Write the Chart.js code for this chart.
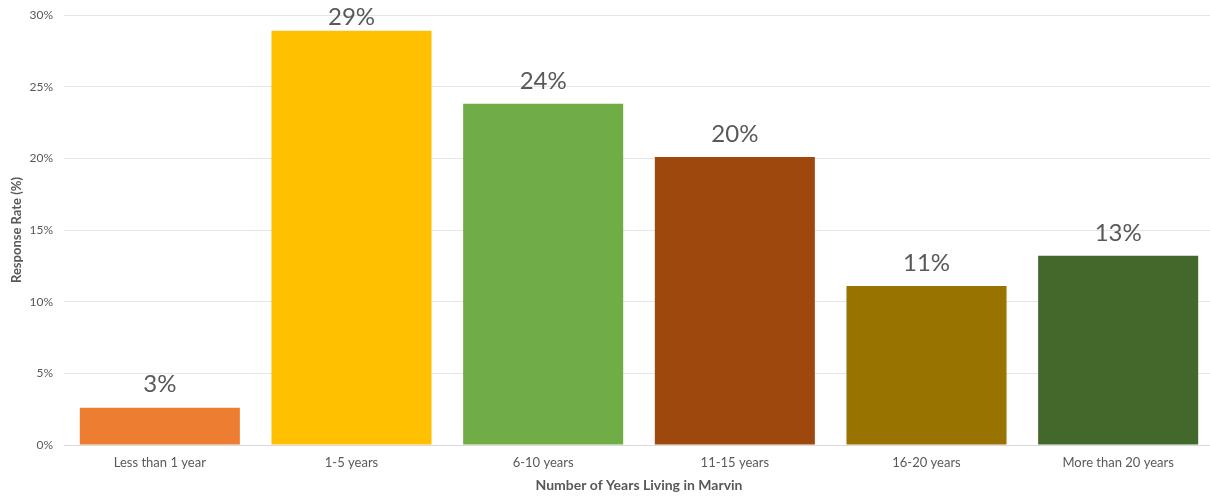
<!DOCTYPE html>
<html>
<head>
<meta charset="utf-8">
<script src="https://cdn.jsdelivr.net/npm/chart.js@4"></script>
<style>
  html, body { margin: 0; padding: 0; background: #fff; overflow: hidden; }
  #wrap { position: absolute; left: 0; top: 0; width: 1214px; height: 496px; }
</style>
</head>
<body>
<div id="wrap"><canvas id="chart"></canvas></div>
<script>
const categories = ["Less than 1 year", "1-5 years", "6-10 years", "11-15 years", "16-20 years", "More than 20 years"];
const responseRates = [2.6, 28.9, 23.8, 20.1, 11.1, 13.2];
const valueLabels = ["3%", "29%", "24%", "20%", "11%", "13%"];
const barColors = ["#ED7D31", "#FFC000", "#70AD47", "#9E480E", "#997300", "#43682B"];

const textGray = "#595959";
const fontName = "Lato, 'Open Sans', sans-serif";

// draws the big % labels above each bar
const valueLabelPlugin = {
    id: "valueLabels",
    afterDatasetsDraw(chart) {
        const ctx = chart.ctx;
        const meta = chart.getDatasetMeta(0);
        ctx.save();
        ctx.fillStyle = textGray;
        ctx.font = "24px " + fontName;
        ctx.textAlign = "center";
        ctx.textBaseline = "bottom";
        meta.data.forEach((bar, i) => {
            // keep the top label inside the canvas
            const y = Math.max(bar.y - 11, 29);
            ctx.fillText(valueLabels[i], bar.x, y);
        });
        ctx.restore();
    }
};

new Chart(document.getElementById("chart"), {
    type: "bar",
    data: {
        labels: categories,
        datasets: [{
            data: responseRates,
            backgroundColor: barColors,
            borderWidth: 0,
            barPercentage: 0.835,
            categoryPercentage: 1
        }]
    },
    options: {
        responsive: true,
        maintainAspectRatio: false,
        animation: false,
        layout: { padding: { top: 15, left: 5, right: 0, bottom: 0 } },
        plugins: {
            legend: { display: false },
            tooltip: { enabled: false }
        },
        scales: {
            x: {
                grid: { display: false, drawTicks: false },
                border: { display: true, color: "#d9d9d9", width: 1 },
                ticks: { color: textGray, font: { family: fontName, size: 13 }, padding: 10 },
                title: {
                    display: true,
                    text: "Number of Years Living in Marvin",
                    color: textGray,
                    font: { family: fontName, size: 14, weight: "bold" },
                    padding: { top: 0, bottom: 2 }
                },
                afterFit(scale) { scale.height = 51; }
            },
            y: {
                min: 0,
                max: 30,
                grid: { color: "#e6e6e6", drawTicks: false },
                border: { display: false },
                ticks: {
                    stepSize: 5,
                    color: textGray,
                    font: { family: fontName, size: 12 },
                    padding: 11,
                    callback: v => v + "%"
                },
                title: {
                    display: true,
                    text: "Response Rate (%)",
                    color: textGray,
                    font: { family: fontName, size: 13, weight: "bold" },
                    padding: { top: 4, bottom: 0 }
                },
                afterFit(scale) {
                    scale.width = 59;
                    scale.paddingTop = 0;
                }
            }
        }
    },
    plugins: [valueLabelPlugin]
});
</script>
</body>
</html>
